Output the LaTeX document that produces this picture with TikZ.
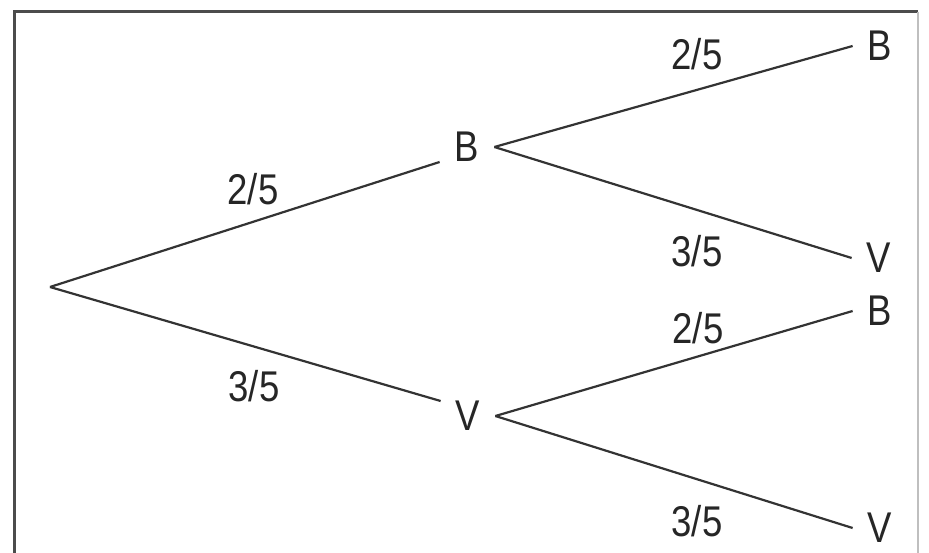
\documentclass[tikz,border=0pt]{standalone}
\usepackage{fontspec}
\setmainfont{Liberation Sans}[FakeStretch=0.85]
\usetikzlibrary{positioning}

\begin{document}
\begin{tikzpicture}[x=1pt,y=-1pt,
  branch/.style={line width=2.2pt, draw=black!80},
  outcome/.style={inner xsep=15pt, inner ysep=0pt, text=black!85,
    font=\fontsize{43}{43}\selectfont},
  prob/.style={inner sep=0pt, text=black!85, font=\fontsize{43}{43}\selectfont}]
  \useasboundingbox (0,0) rectangle (929,553);
  % frame
  \draw[line width=3pt, black!70] (14,600) -- (14,12) -- (918,12);
  \draw[line width=1.5pt, black!25] (918,12) -- (918,600);

  \coordinate (root) at (50,287);
  \node[outcome] (b) at (467,147) {B};
  \node[outcome] (v) at (468,416) {V};
  \node[outcome] (bb) at (880,46) {B};
  \node[outcome] (bv) at (879,258) {V};
  \node[outcome] (vb) at (880,311) {B};
  \node[outcome] (vv) at (880,528) {V};

  \draw[branch] (root) -- (b.south west);
  \draw[branch] (root) -- (v.north west);
  \draw[branch] (b.east) -- (bb.west);
  \draw[branch] (b.east) -- (bv.west);
  \draw[branch] (v.east) -- (vb.west);
  \draw[branch] (v.east) -- (vv.west);

  % probabilities
  \node[prob] (pb) at (253,189) {2/5};
  \node[prob] (pv) at (254,386) {3/5};
  \node[prob] (pbb) at (697,54) {2/5};
  \node[prob] (pbv) at (697,251) {3/5};
  \node[prob] (pvb) at (698,328) {2/5};
  \node[prob] (pvv) at (697,521) {3/5};
\end{tikzpicture}
\end{document}
